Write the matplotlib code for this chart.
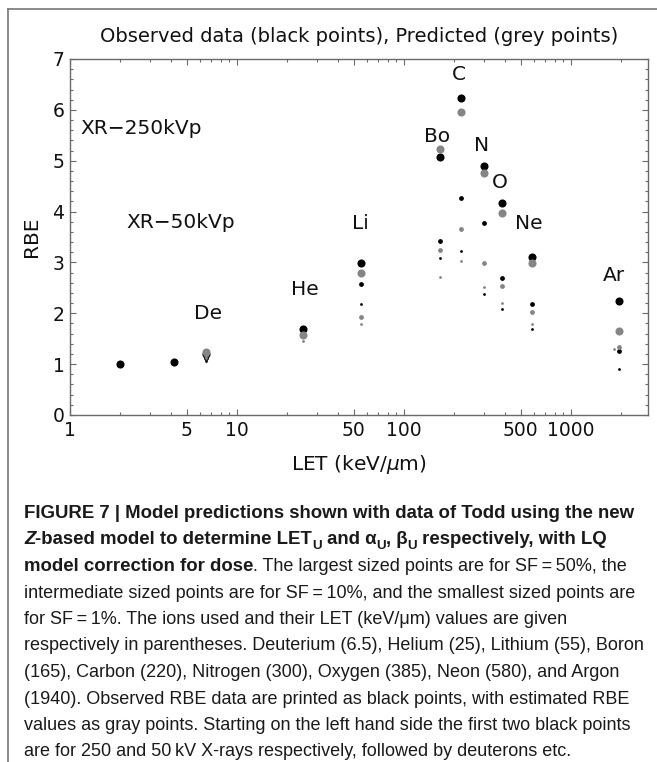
import numpy as np
import matplotlib
matplotlib.use("Agg")
import matplotlib.pyplot as plt
from matplotlib.ticker import FixedLocator, MultipleLocator, NullFormatter
from matplotlib.transforms import IdentityTransform
from matplotlib.lines import Line2D

# ---------------- data ----------------
xray_let = [2.0, 4.2]
xray_rbe = [1.00, 1.04]

ions = ["De", "He", "Li", "Bo", "C", "N", "O", "Ne", "Ar"]
ion_let = [6.5, 25, 55, 165, 220, 300, 385, 580, 1940]

nan = np.nan
obs_sf50 = [1.20, 1.69, 2.98, 5.07, 6.23, 4.89, 4.17, 3.11, 2.24]
obs_sf10 = [1.13, nan, 2.58, 3.42, 4.27, 3.78, 2.69, 2.19, 1.26]
obs_sf1 = [1.07, nan, 2.19, 3.09, 3.22, 2.38, 2.09, 1.69, 0.90]
pred_sf50 = [1.23, 1.58, 2.80, 5.23, 5.95, 4.76, 3.98, 2.99, 1.66]
pred_sf10 = [1.17, nan, 1.93, 3.24, 3.65, 2.98, 2.54, 2.03, 1.34]
pred_sf1 = [1.12, 1.45, 1.79, 2.71, 3.03, 2.52, 2.20, 1.79, 1.29]
pred_sf1_let = [6.5, 25, 55, 165, 220, 300, 385, 580, 1800]

label_text = ["XR\u2212250kVp", "XR\u221250kVp", "De", "He", "Li", "Bo", "C", "N", "O", "Ne", "Ar"]
label_x = [1.15, 2.19, 6.7, 25.5, 55, 157, 213, 293, 375, 560, 1800]
label_y = [5.64, 3.79, 1.99, 2.46, 3.76, 5.47, 6.69, 5.29, 4.58, 3.76, 2.75]
label_ha = ["left", "left", "center", "center", "center", "center", "center",
            "center", "center", "center", "center"]

x_major = [1, 5, 10, 50, 100, 500, 1000]
x_major_labels = ["1", "5", "10", "50", "100", "500", "1000"]
x_minor = [2, 3, 4, 6, 7, 8, 9, 20, 30, 40, 60, 70, 80, 90,
           200, 300, 400, 600, 700, 800, 900, 2000]
y_major = [0, 1, 2, 3, 4, 5, 6, 7]

# ---------------- figure ----------------
W, H, DPI = 657, 762, 100
fig = plt.figure(figsize=(W / DPI, H / DPI), dpi=DPI)
plt.rcParams["font.family"] = ["DejaVu Sans"]
plt.rcParams["mathtext.fontset"] = "dejavusans"

ax = fig.add_axes([70 / W, 1 - 415 / H, (648 - 70) / W, (415 - 59) / H])
ax.set_xscale("log")
ax.set_xlim(1, 2890)
ax.set_ylim(0, 7)

BLACK = "#000000"
GREY = "#858585"
S_LARGE, S_MID, S_SMALL = 34, 12, 4

ax.scatter(xray_let, xray_rbe, s=S_LARGE, color=BLACK, linewidths=0, zorder=3)
ax.scatter(ion_let, obs_sf50, s=S_LARGE, color=BLACK, linewidths=0, zorder=3)
ax.scatter(ion_let, obs_sf10, s=S_MID, color=BLACK, linewidths=0, zorder=3)
ax.scatter(ion_let, obs_sf1, s=S_SMALL, color=BLACK, linewidths=0, zorder=3)
ax.scatter(ion_let, pred_sf50, s=S_LARGE, color=GREY, linewidths=0, zorder=4)
ax.scatter(ion_let, pred_sf10, s=S_MID, color=GREY, linewidths=0, zorder=4)
ax.scatter(pred_sf1_let, pred_sf1, s=S_SMALL, color=GREY, linewidths=0, zorder=4)

TXT = "#111111"
for t, x, y, ha in zip(label_text, label_x, label_y, label_ha):
    ax.text(x, y, t, ha=ha, va="center", fontsize=14.5, color=TXT)

ax.xaxis.set_major_locator(FixedLocator(x_major))
ax.xaxis.set_minor_locator(FixedLocator(x_minor))
ax.set_xticklabels(x_major_labels)
ax.xaxis.set_minor_formatter(NullFormatter())
ax.yaxis.set_major_locator(FixedLocator(y_major))
ax.yaxis.set_minor_locator(MultipleLocator(0.2))

SPINE = "#6a6a6a"
for sp in ax.spines.values():
    sp.set_color(SPINE)
    sp.set_linewidth(1.0)
ax.tick_params(which="both", direction="in", top=True, right=True,
               color=SPINE, labelcolor=TXT, labelsize=13.5, width=0.8)
ax.tick_params(which="major", length=4, pad=4)
ax.tick_params(which="minor", length=2.2)

ax.set_title("Observed data (black points), Predicted (grey points)",
             fontsize=14, pad=12, color=TXT)
ax.set_ylabel("RBE", fontsize=14.5, labelpad=8, color=TXT)
ax.set_xlabel("LET (keV/$\\mu$m)", fontsize=14.5, labelpad=10, color=TXT)

# panel frame
fig.add_artist(Line2D([8 / W, 8 / W], [0, 1 - 9 / H], transform=fig.transFigure,
                      color="#777777", lw=1.2))
fig.add_artist(Line2D([8 / W, 1], [1 - 9 / H, 1 - 9 / H], transform=fig.transFigure,
                      color="#777777", lw=1.2))

# ---------------- caption ----------------
CAP_FAMILY = ["Liberation Sans Narrow", "Liberation Sans", "DejaVu Sans"]
CAP_FS = 13.0
BOLD_FS = 13.4
STYLES = {
    "b": dict(fontweight="bold", fontstyle="normal"),
    "bi": dict(fontweight="bold", fontstyle="italic"),
    "bsub": dict(fontweight="bold", fontstyle="normal"),
    "r": dict(fontweight="normal", fontstyle="normal"),
}

caption = [
    [("FIGURE 7 | Model predictions shown with data of Todd using the new", "b")],
    [("Z", "bi"), ("-based model to determine LET", "b"), ("U", "bsub"),
     (" and \u03b1", "b"), ("U", "bsub"), (", \u03b2", "b"), ("U", "bsub"),
     (" respectively, with LQ", "b")],
    [("model correction for dose", "b"),
     (". The largest sized points are for SF\u2009=\u200950%, the", "r")],
    [("intermediate sized points are for SF\u2009=\u200910%, and the smallest sized points are", "r")],
    [("for SF\u2009=\u20091%. The ions used and their LET (keV/\u03bcm) values are given", "r")],
    [("respectively in parentheses. Deuterium (6.5), Helium (25), Lithium (55), Boron", "r")],
    [("(165), Carbon (220), Nitrogen (300), Oxygen (385), Neon (580), and Argon", "r")],
    [("(1940). Observed RBE data are printed as black points, with estimated RBE", "r")],
    [("values as gray points. Starting on the left hand side the first two black points", "r")],
    [("are for 250 and 50\u2009kV X-rays respectively, followed by deuterons etc.", "r")],
]

renderer = fig.canvas.get_renderer()
LEFT = 24
BASE0, LEAD = 518, 26.5
px_per_pt = DPI / 72.0

# caption lines are laid out run by run, left aligned with natural spacing
for li, runs in enumerate(caption):
    base = H - (BASE0 + LEAD * li)
    x = LEFT
    for text, kind in runs:
        size = CAP_FS if kind == "r" else BOLD_FS
        fs = size * (0.72 if kind == "bsub" else 1.0)
        dy = -0.22 * size * px_per_pt if kind == "bsub" else 0.0
        t = fig.text(x, base + dy, text, transform=IdentityTransform(),
                     fontsize=fs, family=CAP_FAMILY, va="baseline", ha="left",
                     color="#1a1a1a", **STYLES[kind])
        # measure with a trailing character so spaces at the end are counted
        probe = fig.text(0, 0, text + "|", transform=IdentityTransform(),
                         fontsize=fs, family=CAP_FAMILY, **STYLES[kind])
        bar = fig.text(0, 0, "|", transform=IdentityTransform(),
                       fontsize=fs, family=CAP_FAMILY, **STYLES[kind])
        x += (probe.get_window_extent(renderer).width
              - bar.get_window_extent(renderer).width)
        probe.remove()
        bar.remove()

fig.savefig("out.png", dpi=DPI)
